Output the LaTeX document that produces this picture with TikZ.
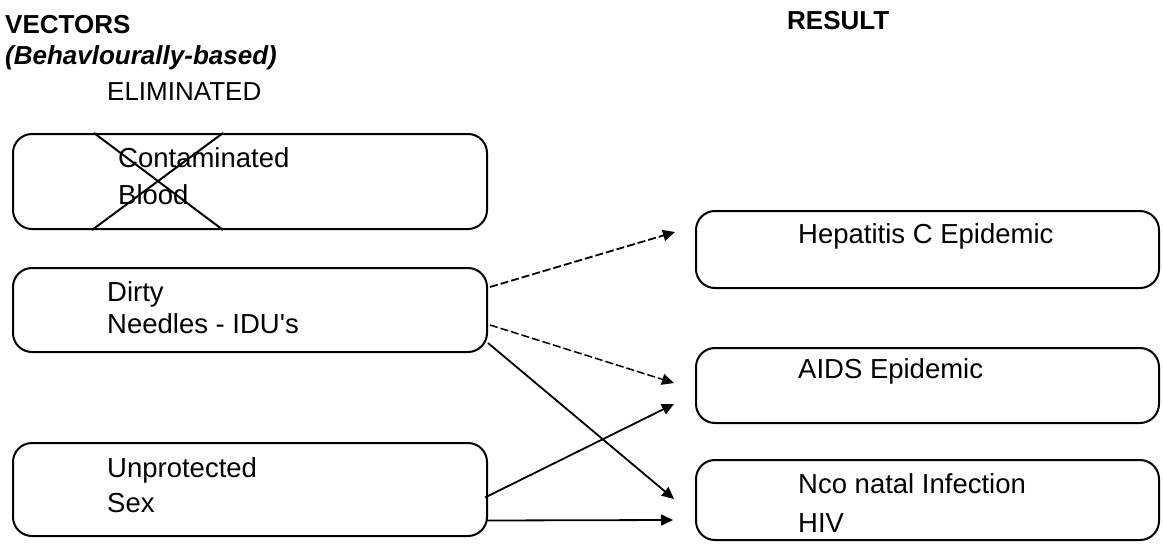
\documentclass[tikz,border=0pt]{standalone}
\usepackage{fontspec}
\setmainfont{Liberation Sans}[Ligatures=TeXOff]
\usetikzlibrary{arrows.meta,calc}
\begin{document}
\begin{tikzpicture}[x=1pt,y=-1pt,
  vbox/.style={draw,line width=2pt,rounded corners=19pt,inner sep=0pt},
  lbl/.style={anchor=base west,inner sep=0pt,font=\fontsize{27.5}{32}\selectfont},
  hdr/.style={anchor=base west,inner sep=0pt,font=\fontsize{26}{30}\selectfont\bfseries},
  conn/.style={line width=1.8pt,-{Triangle[length=12pt,width=11pt]}},
  dconn/.style={conn,dash pattern=on 8pt off 3pt}]
\useasboundingbox (0,0) rectangle (1163,544);
% headers
\node[hdr] (h1) at (5,33) {VECTORS};
\node[hdr] (h2) at (5,64) {\itshape (Behavlourally-based)};
\node[lbl,font=\fontsize{26}{30}\selectfont] (h3) at (107,100) {ELIMINATED};
\node[hdr] (h4) at (787,29) {RESULT};
% left boxes
\node[vbox,minimum width=474pt,minimum height=95pt] (b1) at (250,181.5) {};
\node[vbox,minimum width=474pt,minimum height=84pt] (b2) at (250,310) {};
\node[vbox,minimum width=474pt,minimum height=93pt] (b3) at (250,489.5) {};
% right boxes
\node[vbox,minimum width=463pt,minimum height=77pt] (r1) at (927.5,249.5) {};
\node[vbox,minimum width=463pt,minimum height=75pt] (r2) at (927.5,385.5) {};
\node[vbox,minimum width=463pt,minimum height=80pt] (r3) at (927.5,500) {};
% texts
\node[lbl] (t1a) at (118,167) {Contaminated};
\node[lbl] (t1b) at (118,204) {Blood};
\node[lbl] (t2a) at (107,301) {Dirty};
\node[lbl] (t2b) at (107,333) {Needles - IDU's};
\node[lbl] (t3a) at (107,477) {Unprotected};
\node[lbl] (t3b) at (107,512) {Sex};
\node[lbl] (u1) at (798,243) {Hepatitis C Epidemic};
\node[lbl] (u2) at (798,378) {AIDS Epidemic};
\node[lbl] (u3a) at (798,493) {Nco natal Infection};
\node[lbl] (u3b) at (798,532) {HIV};
% cross
\draw[line width=2pt] ($(b1.north west)+(82,0)$) -- ($(b1.south west)+(211,0)$);
\draw[line width=2pt] ($(b1.north west)+(211,0)$) -- ($(b1.south west)+(80,0)$);
% connectors
\draw[dconn] ($(b2.east)+(2,-23)$) -- ($(r1.west)+(-20,-17.5)$);
\draw[dconn,line width=1.5pt] ($(b2.east)+(2,15)$) -- ($(r2.west)+(-21,-2.5)$);
\draw[conn] ($(b2.east)+(0,33)$) -- ($(r3.west)+(-21,-1)$);
\draw[conn] ($(b3.east)+(-3,8)$) -- ($(r2.west)+(-21,18.5)$);
\draw[conn] ($(b3.east)+(-2,31)$) -- ($(r3.west)+(-22,20)$);
\end{tikzpicture}
\end{document}
